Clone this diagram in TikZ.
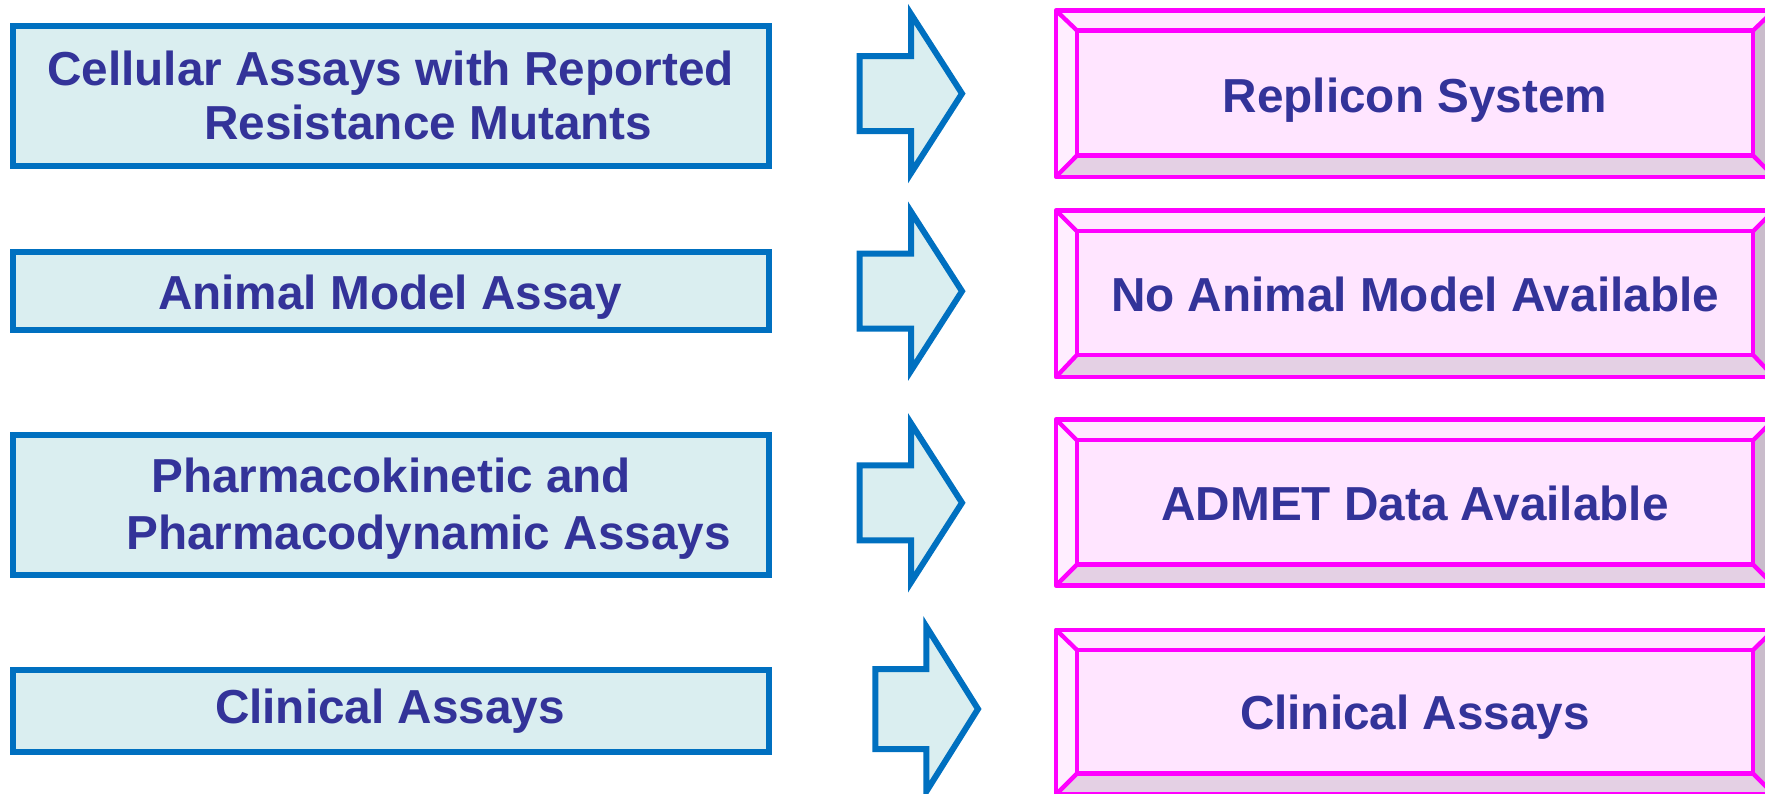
\documentclass[tikz,border=0pt]{standalone}
\usepackage{fontspec}
\setmainfont{Liberation Sans}
\definecolor{lfill}{HTML}{DAEEF0}
\definecolor{lline}{HTML}{0070C0}
\definecolor{txt}{HTML}{333399}
\definecolor{mag}{HTML}{FF00FF}
\definecolor{pin}{HTML}{FFE5FF}
\definecolor{ptop}{HTML}{FFE9FF}
\definecolor{pleft}{HTML}{FFEEFF}
\definecolor{pbot}{HTML}{E4D0E4}
\definecolor{pright}{HTML}{C9BCCB}
\tikzset{
  lbox/.style={draw=lline, fill=lfill, line width=6pt, minimum width=756pt, inner sep=0pt, outer sep=0pt},
  lbl/.style={text=txt, font=\bfseries\fontsize{47.7}{54}\selectfont, inner sep=0pt},
  blk/.style={draw=lline, fill=lfill, line width=6pt, miter limit=10},
  bev/.style={draw=mag, line width=4.3pt, line join=round},
  ibox/.style={draw=mag, fill=pin, line width=4.3pt, minimum width=676pt, inner sep=0pt, outer sep=0pt},
}
% #1 name, #2 outer top, #3 inner top, #4 inner bottom, #5 outer bottom
\newcommand\bevbox[5]{%
  \fill[ptop] (1056,#2) -- (1774,#2) -- (1753,#3) -- (1077,#3) -- cycle;
  \fill[pleft] (1056,#2) -- (1077,#3) -- (1077,#4) -- (1056,#5) -- cycle;
  \fill[pbot] (1056,#5) -- (1077,#4) -- (1753,#4) -- (1774,#5) -- cycle;
  \fill[pright] (1774,#2) -- (1753,#3) -- (1753,#4) -- (1774,#5) -- cycle;
  \draw[bev] (1056,#2) rectangle (1774,#5);
  \node[ibox, minimum height={(#4-#3)*1pt}] (#1) at (1415,{(#3+#4)/2}) {};
  \draw[bev] (1056,#2) -- (#1.north west);
  \draw[bev] (1774,#2) -- (#1.north east);
  \draw[bev] (1056,#5) -- (#1.south west);
  \draw[bev] (1774,#5) -- (#1.south east);
}
% #1 x0, #2 xb, #3 xt, #4 yc, #5 shaft half, #6 head half
\newcommand\blockarr[6]{%
  \draw[blk] (#1,{#4-#5}) -- (#2,{#4-#5}) -- (#2,{#4-#6}) -- (#3,#4)
    -- (#2,{#4+#6}) -- (#2,{#4+#5}) -- (#1,{#4+#5}) -- cycle;
}
\begin{document}
\begin{tikzpicture}[x=1pt,y=-1pt]
\useasboundingbox (0,0) rectangle (1765,794);
\clip (0,0) rectangle (1765,794);

% left boxes
\node[lbox, minimum height=140pt] (L1) at (391,96.3) {};
\node[lbox, minimum height=77.4pt] (L2) at (391,291) {};
\node[lbox, minimum height=140.3pt] (L3) at (391,504.85) {};
\node[lbox, minimum height=82.2pt] (L4) at (391,710.6) {};

\node[lbl, anchor=base west] (L1a) at (47,85.6) {Cellular Assays with Reported};
\node[lbl, anchor=base west] (L1b) at (204,139.6) {Resistance Mutants};
\node[lbl, anchor=base] (L2a) at (390,309.6) {Animal Model Assay};
\node[lbl, anchor=base west] (L3a) at (151,492) {Pharmacokinetic and};
\node[lbl, anchor=base west] (L3b) at (126,549) {Pharmacodynamic Assays};
\node[lbl, anchor=base] (L4a) at (390,723) {Clinical Assays};

% block arrows
\blockarr{859.7}{911}{962}{93.6}{37.5}{79.5}
\blockarr{859.7}{911}{962}{291.2}{37.5}{79.5}
\blockarr{859.7}{911}{962}{502.8}{37.5}{79.5}
\blockarr{875.3}{926.3}{978}{709}{40}{82.5}

% right bevel boxes
\bevbox{R1}{10.5}{30.5}{155.5}{176.7}
\bevbox{R2}{210.5}{231.3}{354.8}{377}
\bevbox{R3}{419.5}{440.3}{564.5}{585.5}
\bevbox{R4}{629.7}{650}{773.5}{794.5}

\node[lbl, anchor=base] (R1t) at (1415,112.6) {Replicon System};
\node[lbl, anchor=base] (R2t) at (1415,312) {No Animal Model Available};
\node[lbl, anchor=base] (R3t) at (1415,520) {ADMET Data Available};
\node[lbl, anchor=base] (R4t) at (1415,729.5) {Clinical Assays};
\end{tikzpicture}
\end{document}
